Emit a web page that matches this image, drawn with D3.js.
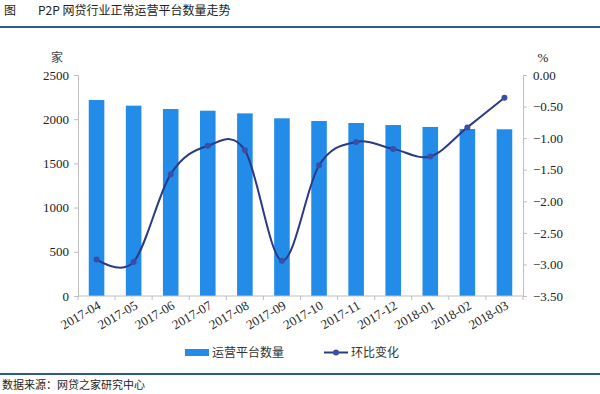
<!DOCTYPE html>
<html>
<head>
<meta charset="UTF-8">
<title></title>
<style>
  body { margin: 0; background: #fff; }
  svg { display: block; }
  .num { font-family: "Times New Roman", "Liberation Serif", "Tinos", "DejaVu Serif", serif; }
</style>
</head>
<body>
<script src="https://cdn.jsdelivr.net/npm/d3@7/dist/d3.min.js"></script>
<script>
    var months = ['2017-04', '2017-05', '2017-06', '2017-07', '2017-08', '2017-09',
                  '2017-10', '2017-11', '2017-12', '2018-01', '2018-02', '2018-03'];
    var platforms = [2217, 2153, 2115, 2096, 2066, 2010, 1980, 1957, 1934, 1912, 1889, 1886];
    var change = [-2.92, -2.96, -1.57, -1.12, -1.19, -2.94, -1.43, -1.06, -1.17, -1.29, -0.83, -0.36];
    var leftTicks = [0, 500, 1000, 1500, 2000, 2500];
    var rightTicks = [0, -0.5, -1, -1.5, -2, -2.5, -3, -3.5];

    var w = 600, h = 394;
    var padL = 78, padR = 523, padT = 75, padB = 296;
    var cjk = '"Noto Sans CJK SC", sans-serif';

    var svg = d3.select('body').append('svg')
            .attr('width', w)
            .attr('height', h);

    // header
    svg.append('text').attr('x', 4).attr('y', 15).text('图')
            .attr('font-family', cjk).attr('font-size', 12).attr('fill', '#222');
    svg.append('text').attr('x', 38).attr('y', 15).text('P2P 网贷行业正常运营平台数量走势')
            .attr('font-family', cjk).attr('font-size', 12).attr('fill', '#222');
    svg.append('line').attr('x1', 0).attr('x2', w).attr('y1', 27).attr('y2', 27)
            .attr('stroke', '#2f5a86').attr('stroke-width', 2);

    var x = d3.scaleBand().domain(months).range([padL, padR]).paddingInner(0.58).paddingOuter(0.29);
    var yL = d3.scaleLinear().domain([0, 2500]).range([padB, padT]);
    var yR = d3.scaleLinear().domain([-3.5, 0]).range([padB, padT]);
    var cx = function(d) { return x(d) + x.bandwidth() / 2; };

    // bars
    svg.selectAll('rect.bar')
            .data(platforms)
            .enter()
            .append('rect')
            .attr('class', 'bar')
            .attr('x', function(d, i) { return x(months[i]); })
            .attr('y', function(d) { return yL(d); })
            .attr('width', x.bandwidth())
            .attr('height', function(d) { return padB - yL(d); })
            .attr('fill', '#228ce8');

    // axes
    var gL = svg.append('g').attr('transform', 'translate(' + padL + ',0)')
            .call(d3.axisLeft(yL).tickValues(leftTicks).tickSize(4).tickPadding(5).tickFormat(d3.format('d')));
    var gR = svg.append('g').attr('transform', 'translate(' + padR + ',0)')
            .call(d3.axisRight(yR).tickValues(rightTicks).tickSize(4).tickPadding(6)
                    .tickFormat(d3.format('.2f')));
    [gL, gR].forEach(function(g) {
        g.attr('font-family', null);
        g.selectAll('path, line').attr('stroke', '#bfbfbf');
        g.selectAll('text').attr('class', 'num').attr('font-size', 13).attr('fill', '#222');
    });

    // x axis line and ticks between categories
    var step = (padR - padL) / months.length;
    svg.append('line').attr('x1', padL).attr('x2', padR).attr('y1', padB).attr('y2', padB)
            .attr('stroke', '#bfbfbf');
    svg.selectAll('line.xt')
            .data(d3.range(months.length + 1))
            .enter()
            .append('line')
            .attr('class', 'xt')
            .attr('x1', function(i) { return padL + i * step; })
            .attr('x2', function(i) { return padL + i * step; })
            .attr('y1', padB).attr('y2', padB + 4)
            .attr('stroke', '#bfbfbf');

    svg.selectAll('text.xl')
            .data(months)
            .enter()
            .append('text')
            .attr('class', 'xl num')
            .attr('text-anchor', 'end')
            .attr('transform', function(d) { return 'translate(' + (cx(d) + 5) + ',' + (padB + 12) + ') rotate(-30)'; })
            .attr('font-size', 13)
            .attr('fill', '#222')
            .text(function(d) { return d; });

    // units
    svg.append('text').attr('x', 57).attr('y', 62).attr('text-anchor', 'middle').text('家')
            .attr('font-family', cjk).attr('font-size', 12).attr('fill', '#444');
    svg.append('text').attr('x', 543).attr('y', 62).attr('text-anchor', 'middle').text('%')
            .attr('class', 'num').attr('font-size', 13).attr('fill', '#222');

    // line
    var line = d3.line()
            .x(function(d, i) { return cx(months[i]); })
            .y(function(d) { return yR(d); })
            .curve(d3.curveCatmullRom.alpha(0));
    svg.append('path').datum(change)
            .attr('d', line)
            .attr('fill', 'none')
            .attr('stroke', '#2b3a86')
            .attr('stroke-width', 2);
    svg.selectAll('circle.pt')
            .data(change)
            .enter()
            .append('circle')
            .attr('class', 'pt')
            .attr('cx', function(d, i) { return cx(months[i]); })
            .attr('cy', function(d) { return yR(d); })
            .attr('r', 3)
            .attr('fill', '#3a4ea6');

    // legend
    svg.append('rect').attr('x', 185).attr('y', 349).attr('width', 24).attr('height', 7).attr('fill', '#228ce8');
    svg.append('text').attr('x', 212).attr('y', 357).text('运营平台数量')
            .attr('font-family', cjk).attr('font-size', 12).attr('fill', '#333');
    svg.append('line').attr('x1', 324).attr('x2', 348).attr('y1', 352.5).attr('y2', 352.5)
            .attr('stroke', '#2b3a86').attr('stroke-width', 2);
    svg.append('circle').attr('cx', 336).attr('cy', 352.5).attr('r', 3).attr('fill', '#3a4ea6');
    svg.append('text').attr('x', 351).attr('y', 357).text('环比变化')
            .attr('font-family', cjk).attr('font-size', 12).attr('fill', '#333');

    // footer
    svg.append('line').attr('x1', 0).attr('x2', w).attr('y1', 374).attr('y2', 374)
            .attr('stroke', '#2f5a86').attr('stroke-width', 2);
    svg.append('text').attr('x', 2).attr('y', 389).text('数据来源：网贷之家研究中心')
            .attr('font-family', cjk).attr('font-size', 11).attr('fill', '#222');
</script>
</body>
</html>
